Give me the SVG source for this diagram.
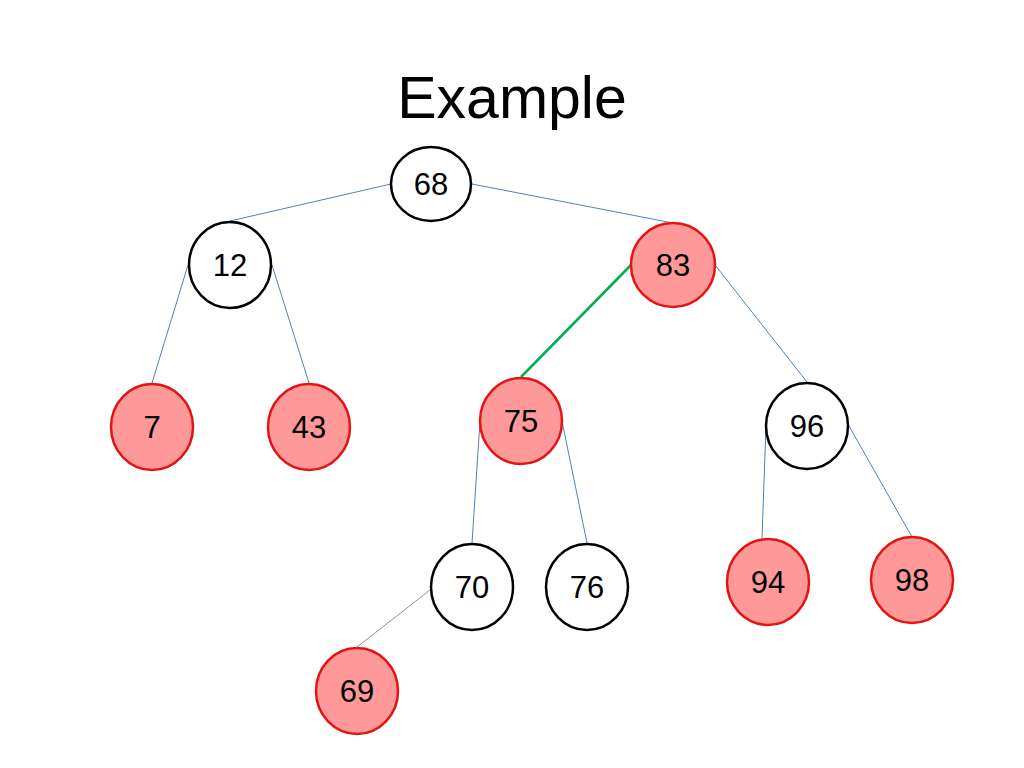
<svg xmlns="http://www.w3.org/2000/svg" width="1024" height="768" viewBox="0 0 1024 768">
<style>
.b{fill:#ffffff;stroke:#000000;stroke-width:2.5}
.r{fill:#ff9999;stroke:#e41414;stroke-width:2.5}
.t{font-family:"Liberation Sans",Arial,sans-serif;font-size:31px;fill:#000;text-anchor:middle}
.e{stroke:#4f81bd;stroke-width:1;fill:none}
</style>
<rect width="1024" height="768" fill="#ffffff"/>
<text x="512" y="118" font-family="Liberation Sans, Arial, sans-serif" font-size="59" text-anchor="middle" fill="#000">Example</text>
<g id="connectors">
<line class="e" x1="391" y1="184" x2="230" y2="221"/>
<line class="e" x1="472" y1="184" x2="673" y2="223"/>
<line class="e" x1="188" y1="265" x2="152" y2="383"/>
<line class="e" x1="272" y1="265" x2="309" y2="383"/>
<line x1="631" y1="265" x2="521" y2="377" stroke="#00b050" stroke-width="2.5"/>
<line class="e" x1="715" y1="265" x2="807" y2="382"/>
<line class="e" x1="480" y1="421" x2="472" y2="543"/>
<line class="e" x1="562" y1="421" x2="587" y2="543"/>
<line class="e" x1="766" y1="426" x2="762" y2="538"/>
<line class="e" x1="849" y1="426" x2="912" y2="537"/>
<line x1="430" y1="590" x2="357" y2="647" stroke="#909090" stroke-width="1"/>
</g>
<g id="n68"><ellipse class="b" cx="431" cy="184" rx="40" ry="37"/><text class="t" x="431" y="195">68</text></g>
<g id="n12"><ellipse class="b" cx="230" cy="265" rx="41" ry="43"/><text class="t" x="230" y="276">12</text></g>
<g id="n83"><ellipse class="r" cx="673" cy="265" rx="42" ry="42"/><text class="t" x="673" y="276">83</text></g>
<g id="n7"><ellipse class="r" cx="152" cy="427" rx="41" ry="43"/><text class="t" x="152" y="438">7</text></g>
<g id="n43"><ellipse class="r" cx="309" cy="427" rx="41" ry="43"/><text class="t" x="309" y="438">43</text></g>
<g id="n75"><ellipse class="r" cx="521" cy="421" rx="41" ry="43"/><text class="t" x="521" y="432">75</text></g>
<g id="n96"><ellipse class="b" cx="807" cy="426" rx="41" ry="43"/><text class="t" x="807" y="437">96</text></g>
<g id="n70"><ellipse class="b" cx="472" cy="587" rx="41" ry="43"/><text class="t" x="472" y="598">70</text></g>
<g id="n76"><ellipse class="b" cx="587" cy="587" rx="41" ry="43"/><text class="t" x="587" y="598">76</text></g>
<g id="n94"><ellipse class="r" cx="768" cy="582" rx="41" ry="43"/><text class="t" x="768" y="593">94</text></g>
<g id="n98"><ellipse class="r" cx="912" cy="580" rx="41" ry="43"/><text class="t" x="912" y="591">98</text></g>
<g id="n69"><ellipse class="r" cx="357" cy="691" rx="41" ry="43"/><text class="t" x="357" y="702">69</text></g>
</svg>
